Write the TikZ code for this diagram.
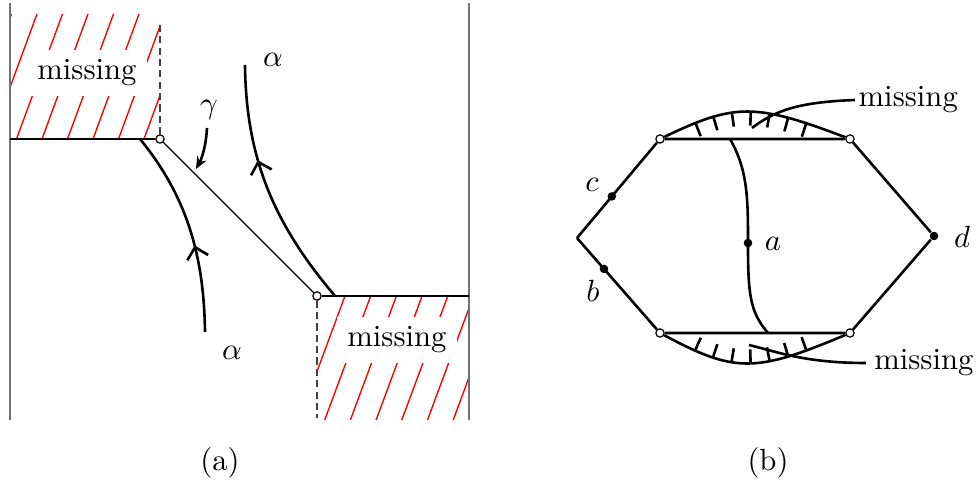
\documentclass[tikz,border=0pt]{standalone}
\usepackage{amsmath,amssymb}
\usepackage{tikz}
\usetikzlibrary{calc,arrows.meta,positioning,decorations.markings}

\tikzset{
  wall/.style={black!55,line width=0.8pt},
  rim/.style={line width=0.85pt},
  dashline/.style={black!75,line width=0.4pt,dash pattern=on 2.3pt off 1.4pt},
  hatchline/.style={red,line width=0.45pt},
  opendot/.style={circle,draw,fill=white,inner sep=0pt,minimum size=2.7pt,line width=0.4pt},
  fulldot/.style={circle,fill,inner sep=0pt,minimum size=2.8pt},
  flowline/.style={rim,decoration={markings,mark=at position #1 with {\arrow{Straight Barb[length=3.5pt,width=7pt]}}},postaction={decorate}},
  ticked/.style={rim,decoration={markings,mark=between positions 0.18 and 0.79 step 0.1 with {\draw[line width=0.85pt] (0pt,0pt) -- (0pt,#1);}},postaction={decorate}},
  gaptext/.style={fill=white},
  tag/.style={inner sep=1pt}
}

\begin{document}
\begin{tikzpicture}[x=0.326pt,y=-0.326pt,>=Stealth]
    \useasboundingbox (0,0) rectangle (979,483);
    % ---------- (a) ----------
    % hatched regions
    \begin{scope}
      \clip (10,14) rectangle (160,139);
      \foreach \k in {-1,...,6}
        \draw[hatchline] ({-9+25.5*\k},139) -- ++(46,-125);
    \end{scope}
    \begin{scope}
      \clip (317,296) rectangle (469,420);
      \foreach \k in {-1,...,7}
        \draw[hatchline] ({299+25.7*\k},420) -- ++(46,-124);
    \end{scope}
    \node[gaptext] (missA) at (87,73) {missing};
    \node[gaptext] (missB) at (397,340) {missing};
    % walls
    \coordinate (wallLtop) at (10,3);
    \coordinate (wallLbot) at (10,420);
    \coordinate (wallRtop) at (469,3);
    \coordinate (wallRbot) at (469,420);
    \draw[wall] (wallLtop) -- (wallLbot);
    \draw[wall] (wallRtop) -- (wallRbot);
    % ledges and corners
    \node[opendot] (p) at (160,139) {};
    \node[opendot] (q) at (317,296) {};
    \coordinate (ledgeL) at (10,139);
    \coordinate (ledgeR) at (469,296);
    \coordinate (dashtop) at (160,22);
    \coordinate (dashbot) at (317,418);
    \draw[dashline] (p) -- (dashtop);
    \draw[dashline] (q) -- (dashbot);
    \draw[rim] (ledgeL) -- (p);
    \draw[rim] (q) -- (ledgeR);
    % gamma
    \draw[line width=0.4pt] (p) -- (q);
    \node (gammaLbl) at (209,110) {$\gamma$};
    \coordinate (gtail) at (207,128);
    \coordinate (ghead) at (196,169);
    \draw[-{Stealth[length=4pt,width=3.4pt]},rim] (gtail) .. controls (206,146) and (202,158) .. (ghead);
    % flow lines
    \coordinate (footL) at (140,139);
    \coordinate (footR) at (335,296);
    \coordinate (tailL) at (205,332);
    \coordinate (tailR) at (245,65);
    \draw[flowline=0.42] (tailL) .. controls (204,262) and (190,200) .. (footL);
    \draw[flowline=0.62] (footR) .. controls (275,225) and (246,160) .. (tailR);
    \node (alphaTop) at (273,60) {$\alpha$};
    \node (alphaBot) at (232,353) {$\alpha$};
    \node (capA) at (220,463) {(a)};
    % ---------- (b) ----------
    \coordinate (west) at (577,238);
    \node[opendot] (tl) at (660,139) {};
    \node[opendot] (tr) at (850,139) {};
    \node[opendot] (bl) at (660,333) {};
    \node[opendot] (br) at (850,333) {};
    \node[fulldot] (d) at (934,236) {};
    \draw[rim] (west) -- (tl) -- (tr) -- (d) -- (br) -- (bl) -- (west);
    \node[fulldot] (c) at ($(west)!0.42!(tl)$) {};
    \node[fulldot] (b) at ($(west)!0.325!(bl)$) {};
    % missing arcs
    \draw[ticked=-4.6pt] (tl) .. controls (735,103) and (755,103) .. (tr);
    \draw[ticked=4.6pt] (bl) .. controls (735,373) and (755,373) .. (br);
    % curve a
    \coordinate (aTop) at (730,139);
    \coordinate (aBot) at (768,333);
    \node[fulldot] (a) at (748,243) {};
    \draw[rim] (aTop) .. controls (748,170) and (748,200) .. (a.center)
      .. controls (748,295) and (750,312) .. (aBot);
    % leaders
    \coordinate (mtTip) at (752,128);
    \coordinate (mtEnd) at (855,100);
    \coordinate (mbTip) at (749,345);
    \coordinate (mbEnd) at (866,363);
    \draw[rim] (mtTip) .. controls (778,108) and (805,102) .. (mtEnd);
    \draw[rim] (mbTip) .. controls (778,352) and (805,363) .. (mbEnd);
    \node[tag,right=0pt of mtEnd] (missC) {missing};
    \node[tag,right=1.5pt of mbEnd] (missD) {missing};
    % labels
    \node (cLbl) at (592,185) {$c$};
    \node (bLbl) at (593,291) {$b$};
    \node (dLbl) at (962,237) {$d$};
    \node (aLbl) at (773,244) {$a$};
    \node (capB) at (768,463) {(b)};
  \end{tikzpicture}
\end{document}
